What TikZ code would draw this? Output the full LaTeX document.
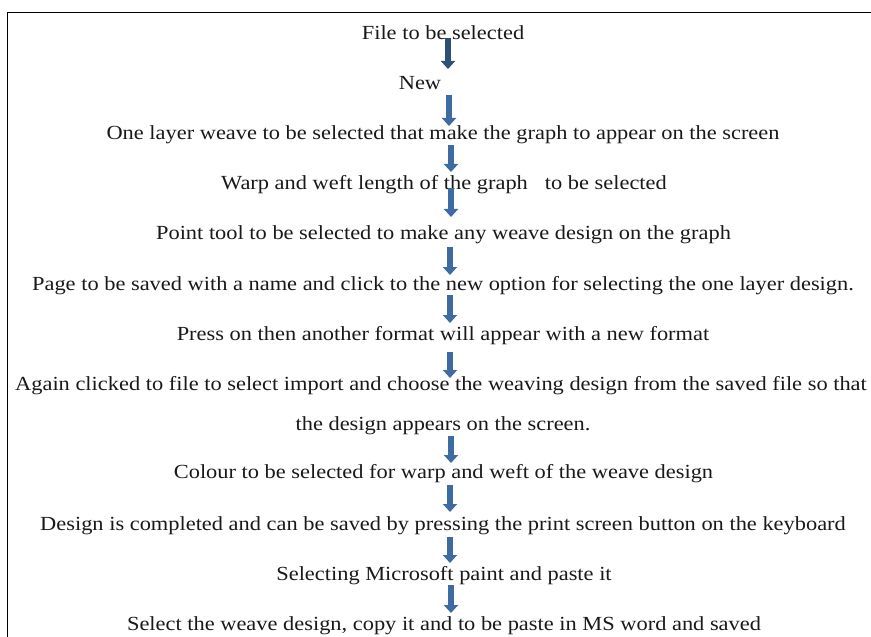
\documentclass[tikz,border=0pt]{standalone}
\usepackage{fontspec}
\setmainfont{Liberation Serif}[FakeStretch=1.12]
\usetikzlibrary{arrows.meta,calc}

\definecolor{arrowdark}{HTML}{2F4F75}
\definecolor{arrowblue}{HTML}{3E6BA2}

\tikzset{
  steptext/.style={anchor=base, inner sep=0pt, font=\fontsize{20bp}{24bp}\selectfont, text=black!90},
  flow/.style={draw=arrowblue, line width=6.5bp, -{Triangle[width=14bp,length=8bp]}},
  frame/.style={draw=black, line width=1.4bp},
}

\begin{document}
\begin{tikzpicture}[x=1bp,y=-1bp]
  \useasboundingbox (0,0) rectangle (871,637);
  \clip (0,0) rectangle (871,637);

  % open frame: left and top edges
  \draw[frame] (7.3,637) -- (7.3,12.3) -- (871,12.3);

  \coordinate (axis) at (450,0);

  % steps
  \node[steptext] (s1)  at (443,40)  {File to be selected};
  \node[steptext] (s2)  at (420,90)  {New};
  \node[steptext] (s3)  at (443,140) {One layer weave to be selected that make the graph to appear on the screen};
  \node[steptext] (s4)  at (444,190) {Warp and weft length of the graph\hspace{17bp}to be selected};
  \node[steptext] (s5)  at (443.5,240) {Point tool to be selected to make any weave design on the graph};
  \node[steptext] (s6)  at (443,290) {Page to be saved with a name and click to the new option for selecting the one layer design.};
  \node[steptext] (s7)  at (443,340) {Press on then another format will appear with a new format};
  \node[steptext, anchor=base west] (s8) at (15,390) {Again clicked to file to select import and choose the weaving design from the saved file so that};
  \node[steptext] (s8b) at (443,430) {the design appears on the screen.};
  \node[steptext] (s9)  at (443.5,478) {Colour to be selected for warp and weft of the weave design};
  \node[steptext] (s10) at (443,530) {Design is completed and can be saved by pressing the print screen button on the keyboard};
  \node[steptext] (s11) at (444,580) {Selecting Microsoft paint and paste it};
  \node[steptext] (s12) at (444,630) {Select the weave design, copy it and to be paste in MS word and saved};

  % connectors
  \draw[flow, draw=arrowdark] ($(s1.base -| axis)+(-2,-2)$) -- ($(s2.base -| axis)+(-2,-21)$);
  \draw[flow] ($(s2.base -| axis)+(-1,5)$)   -- ($(s3.base -| axis)+(-1,-14)$);
  \draw[flow] ($(s3.base -| axis)+(1,5)$)    -- ($(s4.base -| axis)+(1,-18)$);
  \draw[flow] ($(s4.base -| axis)+(1,-2)$)   -- ($(s5.base -| axis)+(1,-23)$);
  \draw[flow] ($(s5.base -| axis)+(0,7)$)    -- ($(s6.base -| axis)+(0,-15)$);
  \draw[flow] ($(s6.base -| axis)+(0,5)$)    -- ($(s7.base -| axis)+(0,-17)$);
  \draw[flow] ($(s7.base -| axis)+(0,12)$)   -- ($(s8.base -| axis)+(0,-12)$);
  \draw[flow] ($(s8b.base -| axis)+(1,6)$)   -- ($(s9.base -| axis)+(1,-15)$);
  \draw[flow] ($(s9.base -| axis)+(0,7)$)    -- ($(s10.base -| axis)+(0,-18)$);
  \draw[flow] ($(s10.base -| axis)+(0,7)$)   -- ($(s11.base -| axis)+(0,-17)$);
  \draw[flow] ($(s11.base -| axis)+(1,5)$)   -- ($(s12.base -| axis)+(1,-17)$);
\end{tikzpicture}
\end{document}
